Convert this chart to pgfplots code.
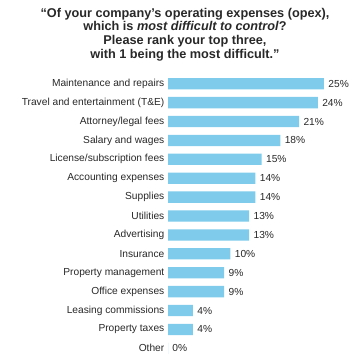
\documentclass[border=0pt]{standalone}
\usepackage{pgfplots}
\pgfplotsset{compat=1.18}
\usepackage{fontspec}
\setmainfont{Liberation Sans}
\definecolor{barblue}{RGB}{126,203,235}
\definecolor{txt}{RGB}{40,40,40}
\begin{document}
\begin{tikzpicture}[x=1bp,y=1bp]
\useasboundingbox (0,0) rectangle (360,-364);
\node[align=center,text=txt,font=\fontsize{12.7bp}{13.7bp}\selectfont\bfseries,inner sep=0pt] at (185,-34.5)
{“Of your company’s operating expenses (opex),\\ which is \textit{most difficult to control}?\\ Please rank your top three,\\ with 1 being the most difficult.”};
\begin{axis}[
  at={(168bp,-74.25bp)}, anchor=north west,
  scale only axis,
  width=156bp, height=283.5bp,
  xmin=0, xmax=25,
  ymin=-0.5, ymax=14.5,
  y dir=reverse,
  xbar, bar width=11.3bp, bar shift=0pt,
  axis line style={draw=none},
  xtick=\empty,
  ytick={0,...,14},
  major tick length=0pt,
  yticklabel style={font=\fontsize{10.2bp}{12bp}\selectfont, text=txt, inner sep=0pt, xshift=-3.5bp},
  yticklabels={Maintenance and repairs,Travel and entertainment (T\&E),Attorney/legal fees,Salary and wages,License/subscription fees,Accounting expenses,Supplies,Utilities,Advertising,Insurance,Property management,Office expenses,Leasing commissions,Property taxes,Other},
  nodes near coords={\pgfmathprintnumber[assume math mode=true]{\pgfplotspointmeta}\%},
  nodes near coords style={font=\fontsize{10.2bp}{12bp}\selectfont, text=txt, anchor=west, inner sep=0pt, xshift=4.3bp},
  clip=false,
]
\addplot[fill=barblue, draw=none] coordinates {
(25,0) (24,1) (21,2) (18,3) (15,4) (14,5) (14,6) (13,7) (13,8) (10,9) (9,10) (9,11) (4,12) (4,13) (0,14)
};
\end{axis}
\end{tikzpicture}
\end{document}
